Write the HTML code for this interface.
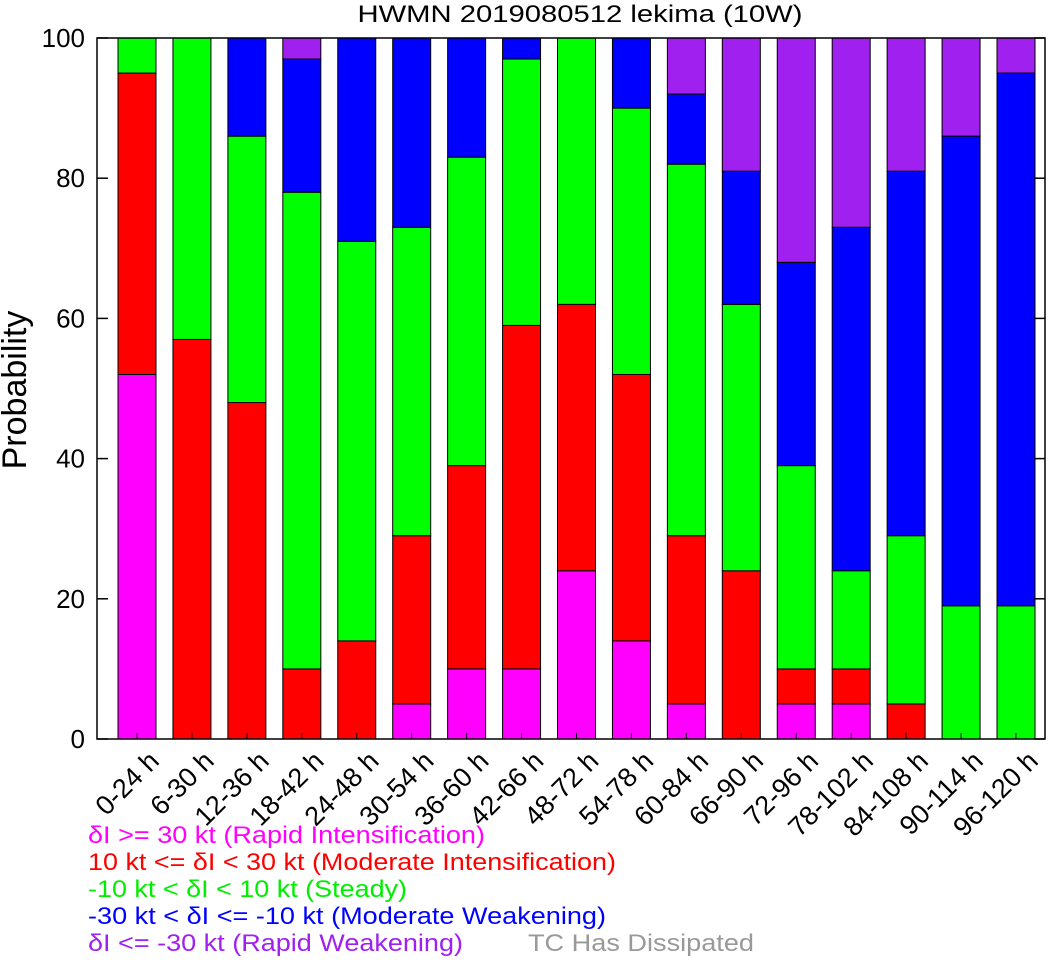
<!DOCTYPE html>
<html><head><meta charset="utf-8"><style>
body{margin:0;background:#fff;}
svg text{font-family:"Liberation Sans",sans-serif;}
</style></head><body>
<svg id="chart" width="1057" height="960" xmlns="http://www.w3.org/2000/svg">
<text x="580" y="22" font-size="24" text-anchor="middle" textLength="445" lengthAdjust="spacingAndGlyphs">HWMN 2019080512 lekima (10W)</text>
<text transform="translate(26,390) rotate(-90)" font-size="34" text-anchor="middle">Probability</text>
<g id="bars"></g>
<g id="axes"></g>
<g font-size="24">
<text x="88" y="843" fill="#ff00ff" textLength="397" lengthAdjust="spacingAndGlyphs">δI &gt;= 30 kt (Rapid Intensification)</text>
<text x="88" y="870" fill="#ff0000" textLength="528" lengthAdjust="spacingAndGlyphs">10 kt &lt;= δI &lt; 30 kt (Moderate Intensification)</text>
<text x="88" y="897" fill="#00ee00" textLength="319" lengthAdjust="spacingAndGlyphs">-10 kt &lt; δI &lt; 10 kt (Steady)</text>
<text x="88" y="924" fill="#0000ff" textLength="518" lengthAdjust="spacingAndGlyphs">-30 kt &lt; δI &lt;= -10 kt (Moderate Weakening)</text>
<text x="88" y="951" fill="#a020f0" textLength="375" lengthAdjust="spacingAndGlyphs">δI &lt;= -30 kt (Rapid Weakening)</text>
<text x="528" y="951" fill="#999999" textLength="226" lengthAdjust="spacingAndGlyphs">TC Has Dissipated</text>
</g>
</svg>
<script>
const categories=["0-24 h","6-30 h","12-36 h","18-42 h","24-48 h","30-54 h","36-60 h","42-66 h","48-72 h","54-78 h","60-84 h","66-90 h","72-96 h","78-102 h","84-108 h","90-114 h","96-120 h"];
const rapidInt=[52,0,0,0,0,5,10,10,24,14,5,0,5,5,0,0,0];
const moderateInt=[43,57,48,10,14,24,29,49,38,38,24,24,5,5,5,0,0];
const steady=[5,43,38,68,57,44,44,38,38,38,53,38,29,14,24,19,19];
const moderateWeak=[0,0,14,19,29,27,17,3,0,10,10,19,29,49,52,67,76];
const rapidWeak=[0,0,0,3,0,0,0,0,0,0,8,19,32,27,19,14,5];
const yTicks=[0,20,40,60,80,100];
const series=[["rapid-int",rapidInt,"#ff00ff"],["moderate-int",moderateInt,"#ff0000"],["steady",steady,"#00ff00"],["moderate-weak",moderateWeak,"#0000ff"],["rapid-weak",rapidWeak,"#a020f0"]];
const NS="http://www.w3.org/2000/svg";
const L=97,R=1045,T=38,B=739;
const yS=v=>B-(B-T)*v/100;
const xS=i=>137+i*(1016-137)/(categories.length-1);
const bw=38;
const bars=document.getElementById('bars'),axes=document.getElementById('axes');
function mk(tag,at,par){const e=document.createElementNS(NS,tag);for(const k in at)e.setAttribute(k,at[k]);par.appendChild(e);return e;}
categories.forEach((c,i)=>{
  let cum=0;
  series.forEach(([nm,arr,col])=>{
    const v=arr[i];
    if(v>0){
      const r=mk('rect',{x:xS(i)-bw/2,y:yS(cum+v),width:bw,height:yS(cum)-yS(cum+v),fill:col,stroke:'#000','stroke-width':1},bars);
      
      
    }
    cum+=v;
  });
  const t=mk('text',{transform:`translate(${xS(i)+10},${B+10}) rotate(-45)`,'font-size':27,'text-anchor':'end','dominant-baseline':'hanging'},axes);
  t.textContent=c;
  
  
  mk('line',{x1:xS(i),x2:xS(i),y1:B,y2:B-6,stroke:'#000'},axes);
});
const f=mk('rect',{x:L,y:T,width:R-L,height:B-T,fill:'none',stroke:'#000','stroke-width':1.5},axes);


yTicks.forEach(v=>{
  mk('line',{x1:L,x2:L+11,y1:yS(v),y2:yS(v),stroke:'#000','stroke-width':1.5},axes);
  mk('line',{x1:R-11,x2:R,y1:yS(v),y2:yS(v),stroke:'#000','stroke-width':1.5},axes);
  const t=mk('text',{x:L-12,y:yS(v)+9,'font-size':26,'text-anchor':'end'},axes);
  t.textContent=v;
  
  
});
</script>
</body></html>
